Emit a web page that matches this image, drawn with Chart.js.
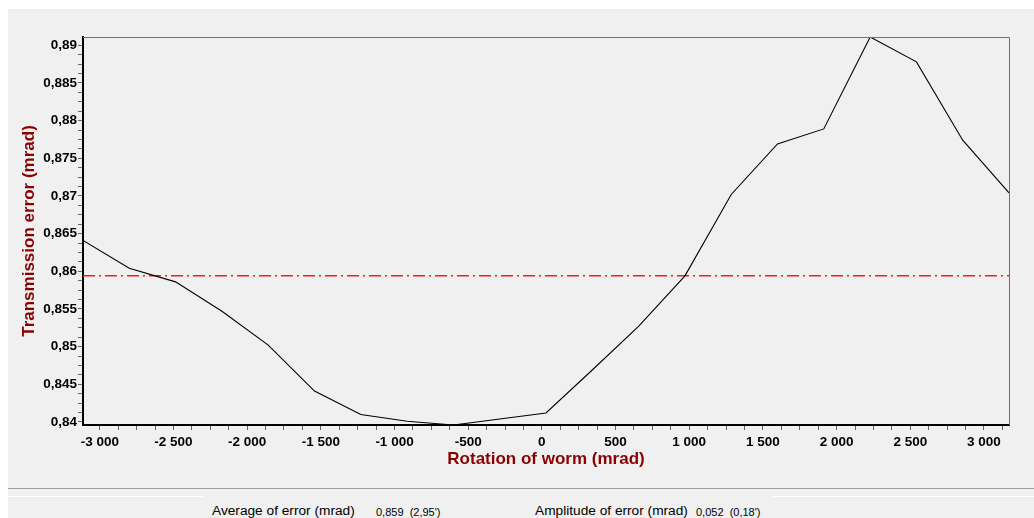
<!DOCTYPE html>
<html lang="en">
<head>
    <meta charset="UTF-8">
    <title>Transmission error</title>
    <script src="https://cdn.jsdelivr.net/npm/chart.js"></script>
    <style>
        body { margin: 0; width: 1034px; height: 518px; overflow: hidden; position: relative; background: #fff;
               font-family: "Liberation Sans", Arial, sans-serif; }
        #chartBox { position: absolute; left: 8px; top: 9px; width: 1026px; height: 479px; background: #f0f0f0; }
        #footer { position: absolute; left: 8px; top: 488px; width: 1026px; height: 30px; background: #f0f0f0;
                  border-top: 1px solid #a0a0a0; }
        .hl { position: absolute; top: 7px; height: 1px; background: #fff; }
        .txt { position: absolute; font-size: 13.7px; line-height: 16px; color: #000; white-space: pre; }
        .val { font-size: 11px; }
    </style>
</head>
<body>
    <div id="chartBox"><canvas id="myChart"></canvas></div>
    <div id="footer">
        <div class="hl" style="left:0; width:195px;"></div>
        <div class="hl" style="left:765px; width:261px;"></div>
    </div>
    <div class="txt" style="left:212px; top:503px;">Average of error (mrad)</div>
    <div class="txt val" style="left:376px; top:504px;">0,859  (2,95')</div>
    <div class="txt" style="left:535px; top:503px;">Amplitude of error (mrad)</div>
    <div class="txt val" style="left:696px; top:504px;">0,052  (0,18')</div>

    <script>
        // rotation of worm (mrad) and transmission error (mrad)
        const rotation = [-3114, -2800, -2486, -2171, -1857, -1543, -1229, -914, -600, -286, 28,
                          342, 656, 971, 1285, 1599, 1913, 2228, 2542, 2856, 3170];
        const error = [0.8641, 0.8604, 0.8586, 0.8547, 0.8502, 0.8441, 0.8410, 0.8401, 0.8396, 0.8404, 0.8412,
                       0.8469, 0.8527, 0.8594, 0.8702, 0.8769, 0.8789, 0.8911, 0.8878, 0.8774, 0.8704];
        const avgError = 0.8594;

        const xTicks = [-3000, -2500, -2000, -1500, -1000, -500, 0, 500, 1000, 1500, 2000, 2500, 3000];
        const yTicks = [0.84, 0.845, 0.85, 0.855, 0.86, 0.865, 0.87, 0.875, 0.88, 0.885, 0.89];

        const darkRed = '#8b0000';
        const tickFont = { family: 'Liberation Sans', size: 13.5, weight: 'bold' };
        const titleFont = { family: 'Liberation Sans', size: 17, weight: 'bold' };

        // major ticks plus 3 minor ticks between each pair
        function withMinor(majors, lo, hi) {
            const step = (majors[1] - majors[0]) / 4;
            const out = [];
            for (let i = -8; i <= (majors.length - 1) * 4 + 8; i++) {
                const v = majors[0] + i * step;
                if (v >= lo - 1e-9 && v <= hi + 1e-9) out.push({ value: v });
            }
            return out;
        }

        function fmtX(v) {
            const a = Math.abs(v);
            let s = a >= 1000 ? Math.floor(a / 1000) + ' ' + String(a % 1000).padStart(3, '0') : String(a);
            return (v < 0 ? '-' : '') + s;
        }

        const frame = {
            id: 'frame',
            afterDatasetsDraw(chart) {
                const { ctx, chartArea: a } = chart;
                ctx.save();
                ctx.strokeStyle = '#707070';
                ctx.lineWidth = 1;
                ctx.beginPath();
                ctx.moveTo(a.left, a.top + 0.5);
                ctx.lineTo(a.right + 0.5, a.top + 0.5);
                ctx.lineTo(a.right + 0.5, a.bottom);
                ctx.stroke();
                ctx.restore();
            }
        };

        const ctx = document.getElementById('myChart').getContext('2d');
        new Chart(ctx, {
            type: 'line',
            data: {
                datasets: [{
                    data: rotation.map((r, i) => ({ x: r, y: error[i] })),
                    borderColor: '#000',
                    borderWidth: 1.1,
                    pointRadius: 0,
                    tension: 0
                }, {
                    data: [{ x: rotation[0], y: avgError }, { x: rotation[rotation.length - 1], y: avgError }],
                    borderColor: '#ff1a1a',
                    borderWidth: 1.5,
                    borderDash: [12, 4, 2, 4],
                    pointRadius: 0
                }]
            },
            options: {
                responsive: true,
                maintainAspectRatio: false,
                animation: false,
                layout: { padding: { left: 0, top: 28, right: 25, bottom: 0 } },
                plugins: { legend: { display: false }, tooltip: { enabled: false } },
                scales: {
                    x: {
                        type: 'linear',
                        min: rotation[0],
                        max: rotation[rotation.length - 1],
                        afterBuildTicks: s => { s.ticks = withMinor(xTicks, s.min, s.max); },
                        afterFit: s => { s.height = 63; },
                        grid: { drawOnChartArea: false, tickLength: 5, color: '#666' },
                        border: { color: '#000', width: 2 },
                        ticks: {
                            autoSkip: false, maxRotation: 0, minRotation: 0, padding: 4,
                            color: '#000', font: tickFont,
                            callback: v => xTicks.includes(v) ? fmtX(v) : ''
                        },
                        title: { display: true, text: 'Rotation of worm (mrad)', color: darkRed, font: titleFont,
                                 padding: { top: 0, bottom: 18 } }
                    },
                    y: {
                        min: Math.min(...error),
                        max: Math.max(...error),
                        afterBuildTicks: s => { s.ticks = withMinor(yTicks, s.min, s.max); },
                        afterFit: s => { s.width = 75; },
                        grid: { drawOnChartArea: false, tickLength: 5, color: '#666' },
                        border: { color: '#000', width: 2 },
                        ticks: {
                            autoSkip: false, padding: 1, color: '#000', font: tickFont,
                            callback: v => yTicks.some(t => Math.abs(t - v) < 1e-7)
                                ? String(parseFloat(v.toFixed(3))).replace('.', ',') : ''
                        },
                        title: { display: true, text: 'Transmission error (mrad)', color: darkRed, font: titleFont,
                                 padding: { top: 11, bottom: 0 } }
                    }
                }
            },
            plugins: [frame]
        });
    </script>
</body>
</html>
